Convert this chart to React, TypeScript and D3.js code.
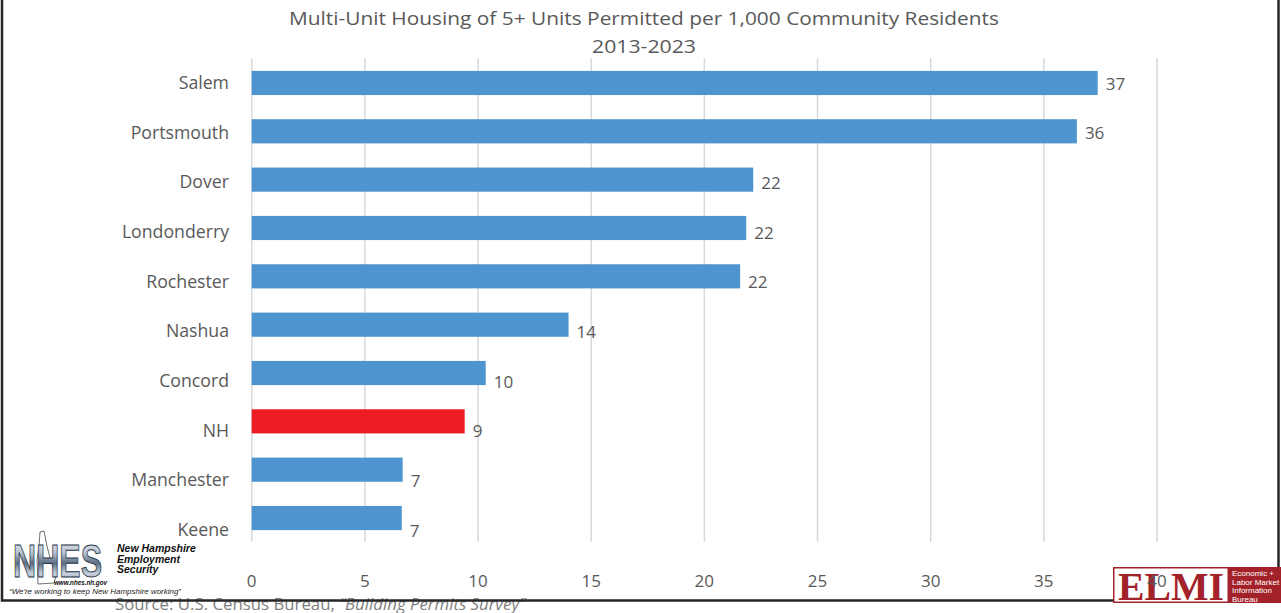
import React from "react";
import * as d3 from "d3";

const categories = ["Salem", "Portsmouth", "Dover", "Londonderry", "Rochester", "Nashua", "Concord", "NH", "Manchester", "Keene"];
const values = [37.38, 36.46, 22.16, 21.85, 21.58, 14.0, 10.34, 9.41, 6.67, 6.63];
const highlighted = ["NH"];
const xTicks = [0, 5, 10, 15, 20, 25, 30, 35, 40];
const titleLines = ["Multi-Unit Housing  of 5+ Units Permitted per 1,000 Community Residents", "2013-2023"];
const sourcePlain = "Source:  U.S. Census Bureau, ";
const sourceItalic = "\u201CBuilding Permits Survey\u201D";
const elmiLines = ["Economic +", "Labor Market", "Information", "Bureau"];
const nhesLines = ["New Hampshire", "Employment", "Security"];

const W = 1281;
const H = 613;
const FONT = "'Open Sans', 'Noto Sans', sans-serif";
const TEXT = "#595959";
const BLUE = "#4e95d0";
const RED = "#ed1c24";
const ELMI_RED = "#a3222a";

export default function App() {
  const x = d3.scaleLinear().domain([0, 40]).range([251.7, 1157]);
  const y = d3.scaleBand<string>().domain(categories).range([58.8, 542.2]).paddingInner(0.5).paddingOuter(0.25);
  const yLab = d3.scalePoint<string>().domain(categories).range([82, 529]);
  const fmt = d3.format(".0f");
  const data = categories.map((c, i) => ({ c, v: values[i] }));

  return (
    <svg width={W} height={H} style={{ position: "absolute", left: 0, top: 0, display: "block", background: "#fff" }}>
      <defs>
        <linearGradient id="nhesGrad" x1="0" y1="0" x2="0" y2="1">
          <stop offset="0" stopColor="#f2f5f8" />
          <stop offset="0.35" stopColor="#b8c4d2" />
          <stop offset="0.55" stopColor="#5d6e82" />
          <stop offset="0.75" stopColor="#c9d3de" />
          <stop offset="1" stopColor="#56677a" />
        </linearGradient>
      </defs>
      <rect x={0} y={0} width={W} height={H} fill="#fff" />

      {/* title */}
      <g fontFamily={FONT} fill={TEXT} textAnchor="middle">
        <text x={644} y={18} dominantBaseline="central" fontSize={19} textLength={710} lengthAdjust="spacingAndGlyphs">
          {titleLines[0]}
        </text>
        <text x={644} y={46} dominantBaseline="central" fontSize={19} textLength={104} lengthAdjust="spacingAndGlyphs">
          {titleLines[1]}
        </text>
      </g>

      {/* gridlines */}
      <g>
        {xTicks.map((t) => (
          <line key={t} x1={x(t)} x2={x(t)} y1={58} y2={542} stroke="#d9d9d9" strokeWidth={1.5} />
        ))}
      </g>

      {/* bars */}
      <g>
        {data.map((d) => (
          <rect
            key={d.c}
            x={x(0)}
            y={y(d.c)}
            width={x(d.v) - x(0)}
            height={y.bandwidth()}
            fill={highlighted.includes(d.c) ? RED : BLUE}
          />
        ))}
      </g>

      {/* value labels */}
      <g fontFamily={FONT} fill={TEXT} fontSize={17}>
        {data.map((d) => (
          <text key={d.c} x={x(d.v) + 8} y={(yLab(d.c) as number) + 1} dominantBaseline="central">
            {fmt(d.v)}
          </text>
        ))}
      </g>

      {/* source */}
      <text x={115} y={604} dominantBaseline="central" fontFamily={FONT} fontSize={16} fill="#7f7f7f" textLength={410} lengthAdjust="spacingAndGlyphs">
        {sourcePlain}
        <tspan fontStyle="italic">{sourceItalic}</tspan>
      </text>

      {/* frame */}
      <rect x={2} y={-5} width={1276.5} height={605.5} fill="none" stroke="#262626" strokeWidth={2.5} />

      {/* NHES logo */}
      <g transform="translate(5,532)">
        <rect x={0} y={0} width={190} height={66} fill="#fff" />
        <path
          d="M35,0 L39,-1 L42,14 L46,30 L51,44 L49,51 L33,52 L32,28 L34,14 Z"
          fill="none"
          stroke="#4a4a4a"
          strokeWidth={0.8}
        />
        <text
          x={8}
          y={45}
          fontFamily="'Liberation Sans', Arial, sans-serif"
          fontWeight="bold"
          fontSize={47}
          textLength={89}
          lengthAdjust="spacingAndGlyphs"
          fill="url(#nhesGrad)"
          stroke="#2b3644"
          strokeWidth={1}
        >
          NHES
        </text>
        <g fontFamily="'Liberation Sans', Arial, sans-serif" fontWeight="bold" fontStyle="italic" fontSize={10.5} fill="#111">
          {nhesLines.map((l, i) => (
            <text key={l} x={112} y={20 + i * 10.5}>
              {l}
            </text>
          ))}
        </g>
        <text x={49} y={53} fontFamily="'Liberation Sans', Arial, sans-serif" fontWeight="bold" fontStyle="italic" fontSize={7.5} fill="#111" textLength={53} lengthAdjust="spacingAndGlyphs">
          www.nhes.nh.gov
        </text>
        <text x={4} y={62} fontFamily="'Liberation Sans', Arial, sans-serif" fontStyle="italic" fontSize={7.5} fill="#222" textLength={172} lengthAdjust="spacingAndGlyphs">
          {"\u201CWe're working to keep New Hampshire working\u201D"}
        </text>
      </g>

      {/* category labels */}
      <g fontFamily={FONT} fill={TEXT} fontSize={17.7} textAnchor="end">
        {categories.map((c) => (
          <text key={c} x={229} y={yLab(c) as number} dominantBaseline="central">
            {c}
          </text>
        ))}
      </g>

      {/* ELMI logo */}
      <g transform="translate(1113,567)">
        <rect x={0} y={0} width={168} height={36} fill={ELMI_RED} />
        <rect x={1.5} y={1.5} width={113} height={33} fill="#fff" />
        <text
          x={5}
          y={33}
          fontFamily="'Liberation Serif', 'DejaVu Serif', serif"
          fontWeight="bold"
          fontSize={40}
          fill={ELMI_RED}
          textLength={106}
          lengthAdjust="spacingAndGlyphs"
        >
          ELMI
        </text>
        <g fontFamily="'Liberation Sans', Arial, sans-serif" fontSize={8} fill="#fff">
          {elmiLines.map((l, i) => (
            <text key={l} x={119} y={9 + i * 8.6}>
              {l}
            </text>
          ))}
        </g>
      </g>

      {/* x tick labels */}
      <g fontFamily={FONT} fill={TEXT} fontSize={17} textAnchor="middle">
        {xTicks.map((t) => (
          <text key={t} x={x(t)} y={580} dominantBaseline="central">
            {t}
          </text>
        ))}
      </g>
    </svg>
  );
}
